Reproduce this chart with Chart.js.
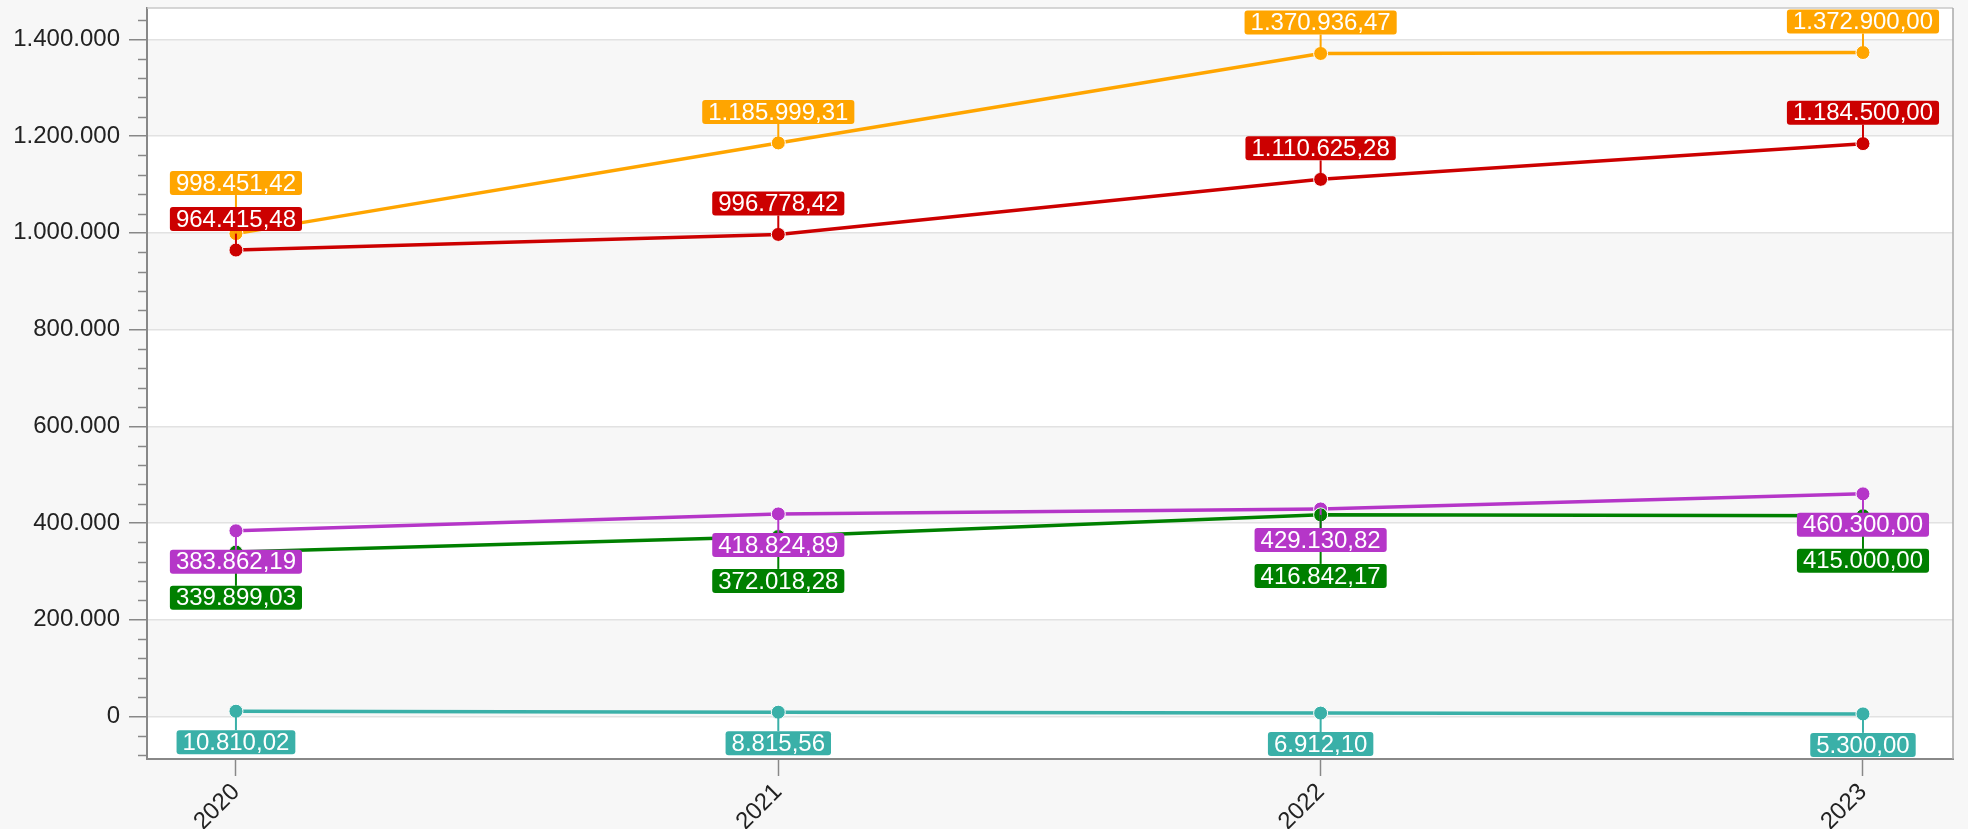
<!DOCTYPE html>
<html>
<head>
<meta charset="utf-8">
<script src="https://cdn.jsdelivr.net/npm/chart.js@4.4.1/dist/chart.umd.min.js"></script>
<style>
  html, body { margin: 0; padding: 0; background: #f7f7f7; }
  #wrap { width: 1968px; height: 829px; }
</style>
</head>
<body>
<div id="wrap"><canvas id="chart" width="1968" height="829"></canvas></div>
<script>
const years = ['2020', '2021', '2022', '2023'];
const yTicks = [0, 200000, 400000, 600000, 800000, 1000000, 1200000, 1400000];

const orangeVals = [998451.42, 1185999.31, 1370936.47, 1372900.00];
const redVals = [964415.48, 996778.42, 1110625.28, 1184500.00];
const purpleVals = [383862.19, 418824.89, 429130.82, 460300.00];
const greenVals = [339899.03, 372018.28, 416842.17, 415000.00];
const tealVals = [10810.02, 8815.56, 6912.10, 5300.00];

// german number formatting
function fmt(v, dec) {
  const neg = v < 0;
  let s = Math.abs(v).toFixed(dec);
  let [int, frac] = s.split('.');
  int = int.replace(/\B(?=(\d{3})+(?!\d))/g, '.');
  return (neg ? '-' : '') + int + (frac ? ',' + frac : '');
}

const FONT = '"Liberation Sans", Arial, sans-serif';

function series(vals, color, side) {
  return {
    data: vals.map((v, i) => ({ x: i, y: v })),
    borderColor: color,
    backgroundColor: color,
    borderWidth: 3.5,
    pointRadius: 7,
    pointBorderColor: '#ffffff',
    pointBorderWidth: 1,
    pointBackgroundColor: color,
    tension: 0,
    labelSide: side
  };
}

// alternating bands + plot frame
const bandsPlugin = {
  id: 'bands',
  beforeDraw(chart) {
    const { ctx, chartArea: a, scales: { y } } = chart;
    ctx.save();
    ctx.fillStyle = '#ffffff';
    ctx.fillRect(a.left, a.top, a.right - a.left, a.bottom - a.top);
    ctx.fillStyle = '#f7f7f7';
    for (let i = 0; i < yTicks.length - 1; i += 2) {
      const y0 = y.getPixelForValue(yTicks[i]);
      const y1 = y.getPixelForValue(yTicks[i + 1]);
      ctx.fillRect(a.left, y1, a.right - a.left, y0 - y1);
    }
    ctx.restore();
  },
  afterDraw(chart) {
    const { ctx, chartArea: a, scales: { y } } = chart;
    ctx.save();
    // frame top/right
    ctx.strokeStyle = '#c8c8c8';
    ctx.lineWidth = 1.5;
    ctx.beginPath();
    ctx.moveTo(a.left, a.top);
    ctx.lineTo(a.right, a.top);
    ctx.stroke();
    ctx.strokeStyle = '#aaaaaa';
    ctx.beginPath();
    ctx.moveTo(a.right, a.top);
    ctx.lineTo(a.right, a.bottom);
    ctx.stroke();
    // minor ticks every 40k
    ctx.strokeStyle = '#888888';
    ctx.lineWidth = 1.5;
    for (let v = -80000; v <= y.max; v += 40000) {
      if (v % 200000 === 0) continue;
      const py = Math.round(y.getPixelForValue(v)) + 0.5;
      ctx.beginPath();
      ctx.moveTo(a.left - 9, py);
      ctx.lineTo(a.left, py);
      ctx.stroke();
    }
    ctx.restore();
  }
};

// value labels with connector lines, simple stacking to avoid overlap
const labelPlugin = {
  id: 'valueLabels',
  afterDatasetsDraw(chart) {
    const { ctx } = chart;
    const fontSize = 24, boxH = 24, padX = 6, off = 31, minGap = 36;
    ctx.save();
    ctx.font = fontSize + 'px ' + FONT;
    const items = [];
    for (let i = 0; i < years.length; i++) {
      const up = [], down = [];
      chart.data.datasets.forEach((ds, di) => {
        const el = chart.getDatasetMeta(di).data[i];
        const it = { x: el.x, py: el.y, color: ds.borderColor, text: fmt(ds.data[i].y, 2), side: ds.labelSide };
        (it.side === 'up' ? up : down).push(it);
      });
      up.sort((p, q) => q.py - p.py);
      let last = Infinity;
      up.forEach(it => {
        let cy = it.py - off;
        if (cy > last - minGap) cy = last - minGap;
        it.cy = cy; last = cy;
        items.push(it);
      });
      down.sort((p, q) => p.py - q.py);
      last = -Infinity;
      down.forEach(it => {
        let cy = it.py + off;
        if (cy < last + minGap) cy = last + minGap;
        it.cy = cy; last = cy;
        items.push(it);
      });
    }
    // connectors first
    ctx.lineWidth = 2;
    items.forEach(it => {
      const edge = it.side === 'up' ? it.cy + boxH / 2 : it.cy - boxH / 2;
      ctx.strokeStyle = it.color;
      ctx.beginPath();
      ctx.moveTo(it.x, it.py);
      ctx.lineTo(it.x, edge);
      ctx.stroke();
    });
    // boxes
    items.forEach(it => {
      const w = ctx.measureText(it.text).width + padX * 2;
      const x0 = it.x - w / 2, y0 = it.cy - boxH / 2;
      ctx.fillStyle = it.color;
      ctx.beginPath();
      ctx.roundRect(x0, y0, w, boxH, 3);
      ctx.fill();
      ctx.fillStyle = '#ffffff';
      ctx.textAlign = 'center';
      ctx.textBaseline = 'middle';
      ctx.fillText(it.text, it.x, it.cy + 1);
    });
    ctx.restore();
  }
};

new Chart(document.getElementById('chart'), {
  type: 'line',
  data: {
    datasets: [
      series(tealVals, '#3ab0a8', 'down'),
      series(greenVals, '#008000', 'down'),
      series(purpleVals, '#b536c8', 'down'),
      series(redVals, '#cc0000', 'up'),
      series(orangeVals, '#ffa500', 'up')
    ]
  },
  options: {
    responsive: false,
    animation: false,
    layout: { padding: { top: 7, right: 15, left: 0, bottom: 0 } },
    plugins: { legend: { display: false }, tooltip: { enabled: false } },
    scales: {
      x: {
        type: 'linear',
        min: -0.164,
        max: 3.166,
        afterBuildTicks: s => { s.ticks = years.map((_, i) => ({ value: i })); },
        afterFit: s => { s.height = 70; s.paddingLeft = 0; s.paddingRight = 0; },
        grid: { drawOnChartArea: false, drawTicks: true, tickLength: 17, tickColor: '#888888', tickWidth: 1.5 },
        border: { color: '#888888', width: 2 },
        ticks: {
          minRotation: 45,
          maxRotation: 45,
          padding: 2,
          color: '#222222',
          font: { family: FONT, size: 24 },
          callback: v => years[v]
        }
      },
      y: {
        min: -88000,
        max: 1465000,
        afterBuildTicks: s => { s.ticks = yTicks.map(v => ({ value: v })); },
        afterFit: s => { s.width = 147; s.paddingTop = 0; s.paddingBottom = 0; },
        grid: { color: '#e2e2e2', lineWidth: 1.5, tickLength: 18, tickColor: '#888888', tickWidth: 1.5 },
        border: { color: '#888888', width: 2 },
        ticks: {
          padding: 9,
          color: '#222222',
          font: { family: FONT, size: 24 },
          callback: v => fmt(v, 0)
        }
      }
    }
  },
  plugins: [bandsPlugin, labelPlugin]
});
</script>
</body>
</html>
